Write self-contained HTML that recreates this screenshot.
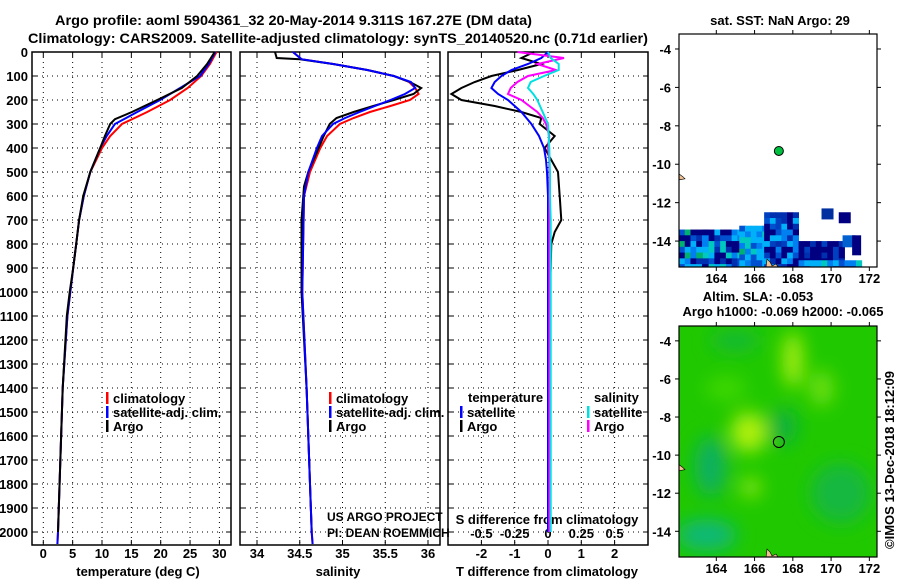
<!DOCTYPE html>
<html><head><meta charset="utf-8"><style>
body{margin:0;background:#fff;width:900px;height:580px;overflow:hidden}
svg text{font-family:"Liberation Sans",sans-serif;font-weight:bold}
</style></head><body>
<svg id="svg" width="900" height="580" xmlns="http://www.w3.org/2000/svg">
<defs>
<filter id="blur" x="-50%" y="-50%" width="200%" height="200%"><feGaussianBlur stdDeviation="9"/></filter>
<clipPath id="clipMap2"><rect x="679" y="326" width="198" height="231"/></clipPath>
<clipPath id="clipMap1"><rect x="679" y="34" width="198" height="233"/></clipPath>
</defs>
<text x="55" y="25" font-size="14" textLength="477" lengthAdjust="spacingAndGlyphs">Argo profile: aoml 5904361_32 20-May-2014 9.311S 167.27E (DM data)</text>
<text x="28" y="43" font-size="14" textLength="620" lengthAdjust="spacingAndGlyphs">Climatology: CARS2009. Satellite-adjusted climatology: synTS_20140520.nc (0.71d earlier)</text>
<g id="plots"></g>
</svg>
<script>
// ---- data ----
const tDepth   = [0,50,100,150,200,250,280,300,350,400,500,600,700,800,900,1000,1100,1400,2000];
const tArgo    = [29.2,27.9,26.2,23.6,19.4,15.1,12.2,11.4,10.5,9.7,8.0,6.8,6.1,5.6,5.1,4.5,4.0,3.3,2.5];
const cDepth   = [0,50,100,150,200,250,300,350,400,500,600,700,800,900,1000,1100,1400,2000,2050];
const tClim    = [29.5,28.4,26.9,24.6,21.6,17.7,13.4,11.4,10.0,8.0,6.9,6.1,5.6,5.1,4.6,4.1,3.3,2.5,2.4];
const tSat     = [29.3,28.2,26.7,23.3,19.9,16.0,12.2,10.8,9.7,8.0,6.9,6.1,5.6,5.1,4.6,4.1,3.3,2.5,2.4];
const sDepth   = [0,25,30,50,75,100,125,150,175,200,225,250,275,300,350,400,500,560,700,1000,1400,2000];
const sArgo    = [34.21,34.23,34.5,34.89,35.29,35.6,35.79,35.92,35.83,35.6,35.36,35.13,34.93,34.85,34.78,34.72,34.6,34.55,34.52,34.52,34.58,34.64];
const scDepth  = [0,30,50,75,100,125,150,175,200,225,250,275,300,350,400,500,600,1000,1400,2000,2050];
const sClim    = [34.42,34.52,34.89,35.29,35.6,35.78,35.85,35.89,35.79,35.56,35.32,35.13,34.97,34.82,34.74,34.62,34.55,34.53,34.58,34.64,34.65];
const sSat     = [34.42,34.52,34.89,35.29,35.6,35.8,35.85,35.73,35.56,35.38,35.2,35.03,34.89,34.76,34.7,34.6,34.55,34.53,34.58,34.64,34.65];
const dDepth   = [0,25,50,75,100,125,150,175,200,225,250,275,300,350,400,450,500,600,700,750,800,900,1000,1500,2000];
const dTArgo   = [-0.42,-0.8,-0.2,-0.9,-1.7,-2.2,-2.6,-2.9,-2.6,-1.6,-0.8,-0.2,-0.25,0.2,-0.1,0.1,0.3,0.35,0.4,0.2,0.1,0.08,0.05,0.05,0.05];
const dTSat    = [0,-0.2,-0.6,-1.1,-1.4,-1.6,-1.7,-1.5,-1.2,-1.0,-0.8,-0.65,-0.5,-0.27,-0.12,-0.06,-0.03,0,0,0,0,0,0,0,0];
const dSArgo   = [-0.23,0.12,-0.08,0.06,-0.15,-0.23,-0.28,-0.3,-0.2,-0.14,-0.08,-0.04,-0.015,0.01,0,0.01,0.01,0.01,0.01,0.01,0.01,0.01,0.01,0.01,0.01];
const dSSat    = [0,0.02,0.08,0.08,-0.03,-0.13,-0.15,-0.11,-0.08,-0.06,-0.04,-0.02,0,0.005,0.01,0.012,0.015,0.015,0.02,0.02,0.02,0.02,0.02,0.02,0.02];
const depthTicks = [0,100,200,300,400,500,600,700,800,900,1000,1100,1200,1300,1400,1500,1600,1700,1800,1900,2000];
const tTicks = [0,5,10,15,20,25,30];
const sTicks = [34,34.5,35,35.5,36];
const dTTicks = [-2,-1,0,1,2];
const dSTicks = [-0.5,-0.25,0,0.25,0.5];
const dSTickLabels = ["-0.5","-0.25","0","0.25","0.5"];
const latTicks = [-4,-6,-8,-10,-12,-14];
const lonTicks = [164,166,168,170,172];

const NS="http://www.w3.org/2000/svg";
const G=document.getElementById('plots');
function el(tag,attrs,parent){const e=document.createElementNS(NS,tag);for(const k in attrs)e.setAttribute(k,attrs[k]);(parent||G).appendChild(e);return e;}
function txt(x,y,s,size,anchor,fill,parent){const t=el('text',{x:x,y:y,'font-size':size||12,'text-anchor':anchor||'start',fill:fill||'#000'},parent);t.textContent=s;return t;}

const TOP=52,BOT=545;
const yD=d=>TOP+d*0.24;
const xT=v=>43.3+v*5.87;
const xS=v=>257+(v-34)*85.5;
const xDT=v=>548+v*33.3;
const xDS=v=>548+v*133.2;

function panel(x0,x1,ticksX,fx,name){
  const g=el('g',{});
  
  
  ticksX.forEach(v=>{const x=fx(v);el('line',{x1:x,x2:x,y1:TOP,y2:BOT,stroke:'#000','stroke-width':1,'stroke-dasharray':'1,4'},g);
    el('line',{x1:x,x2:x,y1:TOP,y2:TOP+5,stroke:'#000'},g);el('line',{x1:x,x2:x,y1:BOT,y2:BOT-5,stroke:'#000'},g);});
  depthTicks.forEach(d=>{const y=yD(d);el('line',{x1:x0,x2:x1,y1:y,y2:y,stroke:'#000','stroke-dasharray':'1,4'},g);
    el('line',{x1:x0,x2:x0+5,y1:y,y2:y,stroke:'#000'},g);el('line',{x1:x1,x2:x1-5,y1:y,y2:y,stroke:'#000'},g);});
  el('rect',{x:x0,y:TOP,width:x1-x0,height:BOT-TOP,fill:'none',stroke:'#000','stroke-width':1.5},g);
  return g;
}
function line(xs,ds,fx,color,name,w){
  const p=el('polyline',{points:xs.map((v,i)=>fx(v).toFixed(1)+','+yD(ds[i]).toFixed(1)).join(' '),fill:'none',stroke:color,'stroke-width':w||2});
  
  
}
panel(32,231,tTicks,xT,'temperature-panel');
panel(240,440,sTicks,xS,'salinity-panel');
panel(448,648,dTTicks,xDT,'difference-panel');

depthTicks.forEach(d=>{const t=txt(28,yD(d)+5,String(d),13,'end');});
tTicks.forEach(v=>{const t=txt(xT(v),558,String(v),13,'middle');});
sTicks.forEach(v=>{const t=txt(xS(v),558,String(v),13,'middle');});
dTTicks.forEach(v=>{const t=txt(xDT(v),558,String(v),13,'middle');});
dSTicks.forEach((v,i)=>{const t=txt(xDS(v),538,dSTickLabels[i],13,'middle');});
let a;
a=txt(138,576,'temperature (deg C)',13,'middle');
a=txt(338,576,'salinity',13,'middle');
a=txt(547,576,'T difference from climatology',13,'middle');
a=txt(547,524,'S difference from climatology',13,'middle');

line(tClim,cDepth,xT,'#ff0000','temp-climatology-line');
line(tSat,cDepth,xT,'#0000ff','temp-satellite-line');
line(tArgo,tDepth,xT,'#000','temp-argo-line');
line(sClim,scDepth,xS,'#ff0000','sal-climatology-line');
line(sArgo,sDepth,xS,'#000','sal-argo-line');
line(sSat,scDepth,xS,'#0000ff','sal-satellite-line');
line(dTArgo,dDepth,xDT,'#000','tdiff-argo-line');
line(dTSat,dDepth,xDT,'#0000ff','tdiff-satellite-line');
line(dSArgo,dDepth,xDS,'#ff00ff','sdiff-argo-line');
line(dSSat,dDepth,xDS,'#00e0e0','sdiff-satellite-line');

function legend(x,y,color,label,name){
  const g=el('g',{});
  el('rect',{x:x,y:y-10,width:2.5,height:12,fill:color},g);txt(x+7,y+1,label,13,'start','#000',g);
}
legend(106,402,'#ff0000','climatology','legend-temp-climatology');
legend(106,416,'#0000ff','satellite-adj. clim.','legend-temp-satellite');
legend(106,430,'#000','Argo','legend-temp-argo');
legend(329,402,'#ff0000','climatology','legend-sal-climatology');
legend(329,416,'#0000ff','satellite-adj. clim.','legend-sal-satellite');
legend(329,430,'#000','Argo','legend-sal-argo');
a=txt(468,402,'temperature',13);
a=txt(594,402,'salinity',13);
legend(460,416,'#0000ff','satellite','legend-tdiff-satellite');
legend(460,430,'#000','Argo','legend-tdiff-argo');
legend(587,416,'#00e0e0','satellite','legend-sdiff-satellite');
legend(587,430,'#ff00ff','Argo','legend-sdiff-argo');
a=txt(327,521,'US ARGO PROJECT',12,'start');a.setAttribute('font-weight','normal');
a=txt(327,537,'PI: DEAN ROEMMICH',12,'start');a.setAttribute('font-weight','normal');

// ---- maps ----
const MX0=679,MX1=877,LON0=162.05,LON1=172.4,LAT0=-3.22,LAT1=-15.35;
const mx=lon=>MX0+(lon-LON0)*(MX1-MX0)/(LON1-LON0);
function mapAxes(top,bot,name){
  const my=lat=>top+(lat-LAT0)*(bot-top)/(LAT1-LAT0);
  const g=el('g',{});
  latTicks.forEach(l=>{const y=my(l);el('line',{x1:MX0,x2:MX0-4,y1:y,y2:y,stroke:'#000'},g);el('line',{x1:MX1,x2:MX1+4,y1:y,y2:y,stroke:'#000'},g);txt(671,y+5,String(l),13,'end','#000',g);});
  lonTicks.forEach(l=>{const x=mx(l);el('line',{x1:x,x2:x,y1:bot,y2:bot+4,stroke:'#000'},g);el('line',{x1:x,x2:x,y1:top,y2:top-4,stroke:'#000'},g);txt(x,bot+16,String(l),13,'middle','#000',g);});
  el('rect',{x:MX0,y:top,width:MX1-MX0,height:bot-top,fill:'none',stroke:'#000','stroke-width':1.2},g);
  return my;
}
function hash(i,j){let h=(i*374761393+j*668265263)>>>0;h=((h^(h>>>13))*1274126177)>>>0;return (h^(h>>>16))>>>0;}
// top map SST cells
const T1=34,B1=267;
const myTop=lat=>T1+(lat-LAT0)*(B1-T1)/(LAT1-LAT0);
const pal=['#000080','#000080','#0030b0','#0050d0','#0080f0','#00b0f8','#00c8c0','#00b070','#000090','#0040c0'];
const cells=el('g',{'clip-path':'url(#clipMap1)'});
const CS=0.3;
function fillRegion(lo0,lo1,la0,la1,palIdx){
  for(let i=0;la0-i*CS>la1;i++){for(let j=0;lo0+j*CS<lo1;j++){
    const lat=la0-i*CS,lon=lo0+j*CS;
    const k=palIdx[hash(Math.round(lat*10)+200,Math.round(lon*10))%palIdx.length];
    el('rect',{x:mx(lon),y:myTop(lat),width:6.2,height:6.2,fill:pal[k]},cells);}}
}
fillRegion(162.05,163.3,-13.4,-15.4,[0,1,2,3,4,5,7]);
fillRegion(163.3,165.2,-13.4,-15.4,[0,1,2,3,4,5,6]);
fillRegion(165.2,166.5,-13.2,-15.4,[3,4,5,6,7,5]);
fillRegion(166.5,168.3,-12.5,-15.4,[0,1,2,3,4,9,5]);
fillRegion(168.3,170.6,-14.0,-15.0,[0,0,1,2,9]);
fillRegion(168.3,171.6,-15.0,-15.4,[3,4,5,6]);
el('rect',{x:mx(169.5),y:myTop(-12.3),width:12,height:11,fill:'#0030a0'},cells);
el('rect',{x:mx(170.4),y:myTop(-12.5),width:12,height:11,fill:'#000080'},cells);
el('rect',{x:mx(170.6),y:myTop(-13.7),width:13,height:12,fill:'#0060d0'},cells);
el('rect',{x:mx(171.1),y:myTop(-13.7),width:9,height:20,fill:'#000080'},cells);
el('path',{d:`M${mx(166.6)},${myTop(-15.35)} l1,-8 l3,3 l2,4 l4,-2 l2,3 z`,fill:'#f0c090',stroke:'#000','stroke-width':0.6});
el('path',{d:`M${mx(162.05)},${myTop(-10.5)} l4,3 l2,2 l-6,1 z`,fill:'#f0c090',stroke:'#000','stroke-width':0.6});
mapAxes(T1,B1,'sst-map');
a=el('circle',{cx:mx(167.27),cy:myTop(-9.31),r:4.5,fill:'#00c040',stroke:'#000','stroke-width':1});
a=txt(780,25,'sat. SST: NaN Argo: 29',13,'middle');

// bottom map SLA
const T2=326,B2=557;
const myB=lat=>T2+(lat-LAT0)*(B2-T2)/(LAT1-LAT0);
const sla=el('g',{'clip-path':'url(#clipMap2)'});
el('rect',{x:MX0,y:T2,width:MX1-MX0,height:B2-T2,fill:'#20c800'},sla);
const blobs=el('g',{filter:'url(#blur)'},sla);
[[168,-5,10,28,'#a8ee10'],[165.7,-8.8,18,20,'#b0f010'],[169.5,-6.5,12,18,'#70e010'],[165.8,-11.7,10,10,'#90e810'],[164.5,-6.5,20,12,'#40d800'],
 [163.7,-10.6,16,30,'#10b060'],[163.5,-14.2,30,16,'#10b878'],[167.5,-8.5,14,18,'#10b040'],[170.5,-12,30,30,'#18b840'],[165,-4,25,10,'#18b838']].forEach(b=>{
 el('ellipse',{cx:mx(b[0]),cy:myB(b[1]),rx:b[2],ry:b[3],fill:b[4]},blobs);});
el('path',{d:`M${mx(166.6)},${myB(-15.35)} l1,-8 l3,3 l2,4 l4,-2 l2,3 z`,fill:'#f0c090',stroke:'#000','stroke-width':0.6},sla);
el('path',{d:`M${mx(162.05)},${myB(-10.5)} l4,3 l2,2 l-6,1 z`,fill:'#f0c090',stroke:'#000','stroke-width':0.6},sla);
mapAxes(T2,B2,'sla-map');
a=el('circle',{cx:mx(167.27),cy:myB(-9.31),r:5.5,fill:'none',stroke:'#000','stroke-width':1});
a=txt(758,301,'Altim. SLA: -0.053',13,'middle');
a=txt(783,316,'Argo h1000: -0.069 h2000: -0.065',13,'middle');
a=txt(0,0,'©IMOS 13-Dec-2018 18:12:09',13,'middle');a.setAttribute('font-weight','normal');a.setAttribute('transform','translate(894,460) rotate(-90)');
</script>
</body></html>
